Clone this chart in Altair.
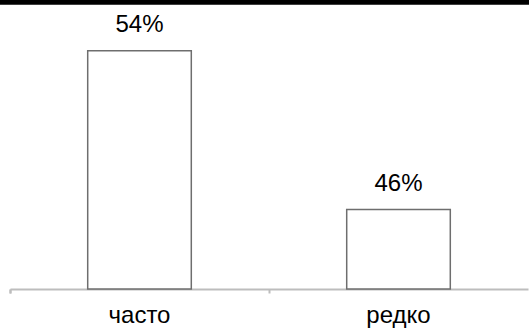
import altair as alt
import pandas as pd

# Share of answers per frequency category
categories = ["часто", "редко"]
shares = [54, 46]
labels = ["54%", "46%"]

df = pd.DataFrame({"category": categories, "share": shares, "label": labels})

FONT = "Liberation Sans"
FONT_SIZE = 24

x_enc = alt.X(
    "category:N",
    sort=categories,
    title=None,
    scale=alt.Scale(paddingInner=0, paddingOuter=0),
    axis=alt.Axis(
        labelAngle=0,
        labelFont=FONT,
        labelFontSize=FONT_SIZE,
        labelColor="#000000",
        labelBaseline="alphabetic",
        labelPadding=29,
        domainColor="#bdbdbd",
        domainWidth=2,
        tickColor="#bdbdbd",
        tickWidth=2,
        tickSize=4,
        bandPosition=0,
        tickExtra=True,
        grid=False,
    ),
)
y_enc = alt.Y(
    "share:Q",
    title=None,
    scale=alt.Scale(domain=[42, 56], nice=False, zero=False),
    axis=None,
)

bars = alt.Chart(df).mark_bar(
    width={"band": 0.4},
    fill="#ffffff",
    stroke="#6e6e6e",
    strokeWidth=1.5,
).encode(x=x_enc, y=y_enc, y2=alt.datum(42))

text = alt.Chart(df).mark_text(
    font=FONT,
    fontSize=FONT_SIZE,
    color="#000000",
    baseline="alphabetic",
    dy=-19,
).encode(x=alt.X("category:N", sort=categories), y="share:Q", text="label:N")

# Heavy black rule along the top edge of the figure
top_rule = alt.Chart(df).mark_rule(color="#000000", strokeWidth=5).encode(
    x=alt.value(-10), x2=alt.value(519), y=alt.value(-9)
)

chart = (
    alt.layer(bars, text, top_rule)
    .properties(
        width=518,
        height=278,
        padding={"left": 10, "top": 11, "right": 1, "bottom": 40},
        autosize=alt.AutoSizeParams(type="none"),
        background="#ffffff",
    )
    .configure_view(stroke=None)
)

chart.save("out.html", embed_options={"renderer": "svg", "actions": False})
